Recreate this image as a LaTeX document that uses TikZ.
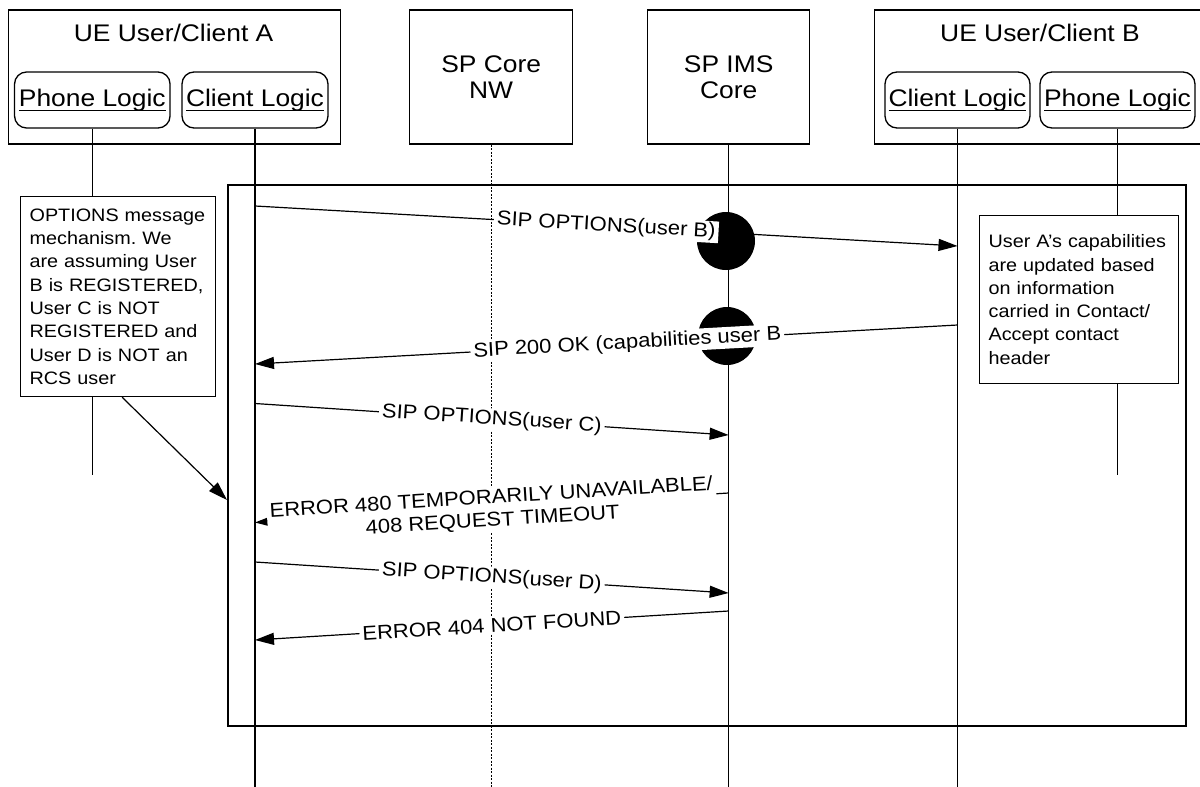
\documentclass[tikz,border=0pt]{standalone}
\usepackage{fontspec}
\setmainfont[FakeStretch=1.1]{Liberation Sans}
\usetikzlibrary{arrows.meta}
\frenchspacing

% underlined name inside a logic box
\newcommand{\logicname}[1]{\setbox0\hbox{#1}\rlap{\rule[-5pt]{\wd0}{1.2pt}}\box0}

\begin{document}
\begin{tikzpicture}[x=1pt, y=-1pt,
    hdr/.style={draw, line width=1.3pt, minimum height=134pt, anchor=north west, inner sep=0pt, align=center, font=\fontsize{24}{26}\selectfont},
    logic/.style={draw, line width=1.3pt, rounded corners=12pt, minimum height=56pt, inner xsep=2pt, font=\fontsize{24}{26}\selectfont},
    note/.style={draw, fill=white, line width=1.2pt, anchor=north west, inner xsep=9pt, align=left, font=\fontsize{18}{23.3}\selectfont},
    life/.style={line width=1.3pt},
    msg/.style={line width=1.2pt, -{Triangle[length=19pt,width=12pt]}},
    lbl/.style={fill=white, sloped, inner xsep=3pt, inner ysep=1.5pt, font=\fontsize{20}{23}\selectfont}]
    \clip (0,0) rectangle (1200,787);

    % Participants
    \node[hdr, minimum width=332pt] (ueA) at (7.7,9.3) {};
    \node[font=\fontsize{24}{26}\selectfont] (ueAt) at (173.6,33) {UE User/Client A};
    \node[logic, minimum width=155.5pt] (phA) at (92.3,100) {\logicname{Phone Logic}};
    \node[logic, minimum width=146pt] (clA) at (255,100) {\logicname{Client Logic}};
    \node[hdr, minimum width=163pt] (core) at (409,9.3) {SP Core\\NW};
    \node[hdr, minimum width=162pt] (ims) at (647,9.3) {SP IMS\\Core};
    \node[hdr, minimum width=332pt] (ueB) at (874,9.3) {};
    \node[font=\fontsize{24}{26}\selectfont] (ueBt) at (1040,33) {UE User/Client B};
    \node[logic, minimum width=145pt] (clB) at (957.5,100) {\logicname{Client Logic}};
    \node[logic, minimum width=155pt] (phB) at (1117.5,100) {\logicname{Phone Logic}};

    % Frame round the exchange
    \node[draw, line width=1.6pt, minimum width=958pt, minimum height=541pt, anchor=north west, inner sep=0pt] (frame) at (227,184) {};

    % Lifelines
    \draw[life] (phA.south) -- (phA.south |- 0,475);
    \draw[life] (clA.south) -- (clA.south |- 0,787);
    \draw[line width=.8pt, dash pattern=on 2pt off 1.5pt] (core.south) -- (core.south |- 0,787);
    \draw[life] (ims.south) -- (ims.south |- 0,787);
    \draw[life] (clB.south) -- (clB.south |- 0,787);
    \draw[life] (phB.south) -- (phB.south |- 0,475);

    % Black discs on the IMS lifeline
    \fill (726,241) circle (29pt);
    \fill (727,336) circle (29pt);

    % Messages
    \draw[msg] (clA.south |- 0,206) -- node[lbl] {SIP OPTIONS(user B)} (clB.south |- 0,246);
    \draw[msg] (clB.south |- 0,325) -- node[lbl, pos=.47] {SIP 200 OK (capabilities user B} (clA.south |- 0,364);
    \draw[msg] (clA.south |- 0,403.5) -- node[lbl] {SIP OPTIONS(user C)} (ims.south |- 0,435);
    \draw[msg] (ims.south |- 0,493) -- node[lbl, align=center, yshift=-2pt] {ERROR 480 TEMPORARILY UNAVAILABLE/\\408 REQUEST TIMEOUT} (clA.south |- 0,522.5);
    \draw[msg] (clA.south |- 0,562) -- node[lbl] {SIP OPTIONS(user D)} (ims.south |- 0,593);
    \draw[msg] (ims.south |- 0,611) -- node[lbl] {ERROR 404 NOT FOUND} (clA.south |- 0,640);

    % Notes
    \node[note, text width=177pt, minimum height=200pt] (noteA) at (20,196) {OPTIONS message\\mechanism. We\\are assuming User\\B is REGISTERED,\\User C is NOT\\REGISTERED and\\User D is NOT an\\RCS user};
    \node[note, text width=181pt, minimum height=168pt] (noteB) at (979,215) {User A’s capabilities\\are updated based\\on information\\carried in Contact/\\Accept contact\\header};
    \draw[msg] ([xshift=4pt]noteA.south) -- (frame.west |- 0,500);
\end{tikzpicture}
\end{document}
